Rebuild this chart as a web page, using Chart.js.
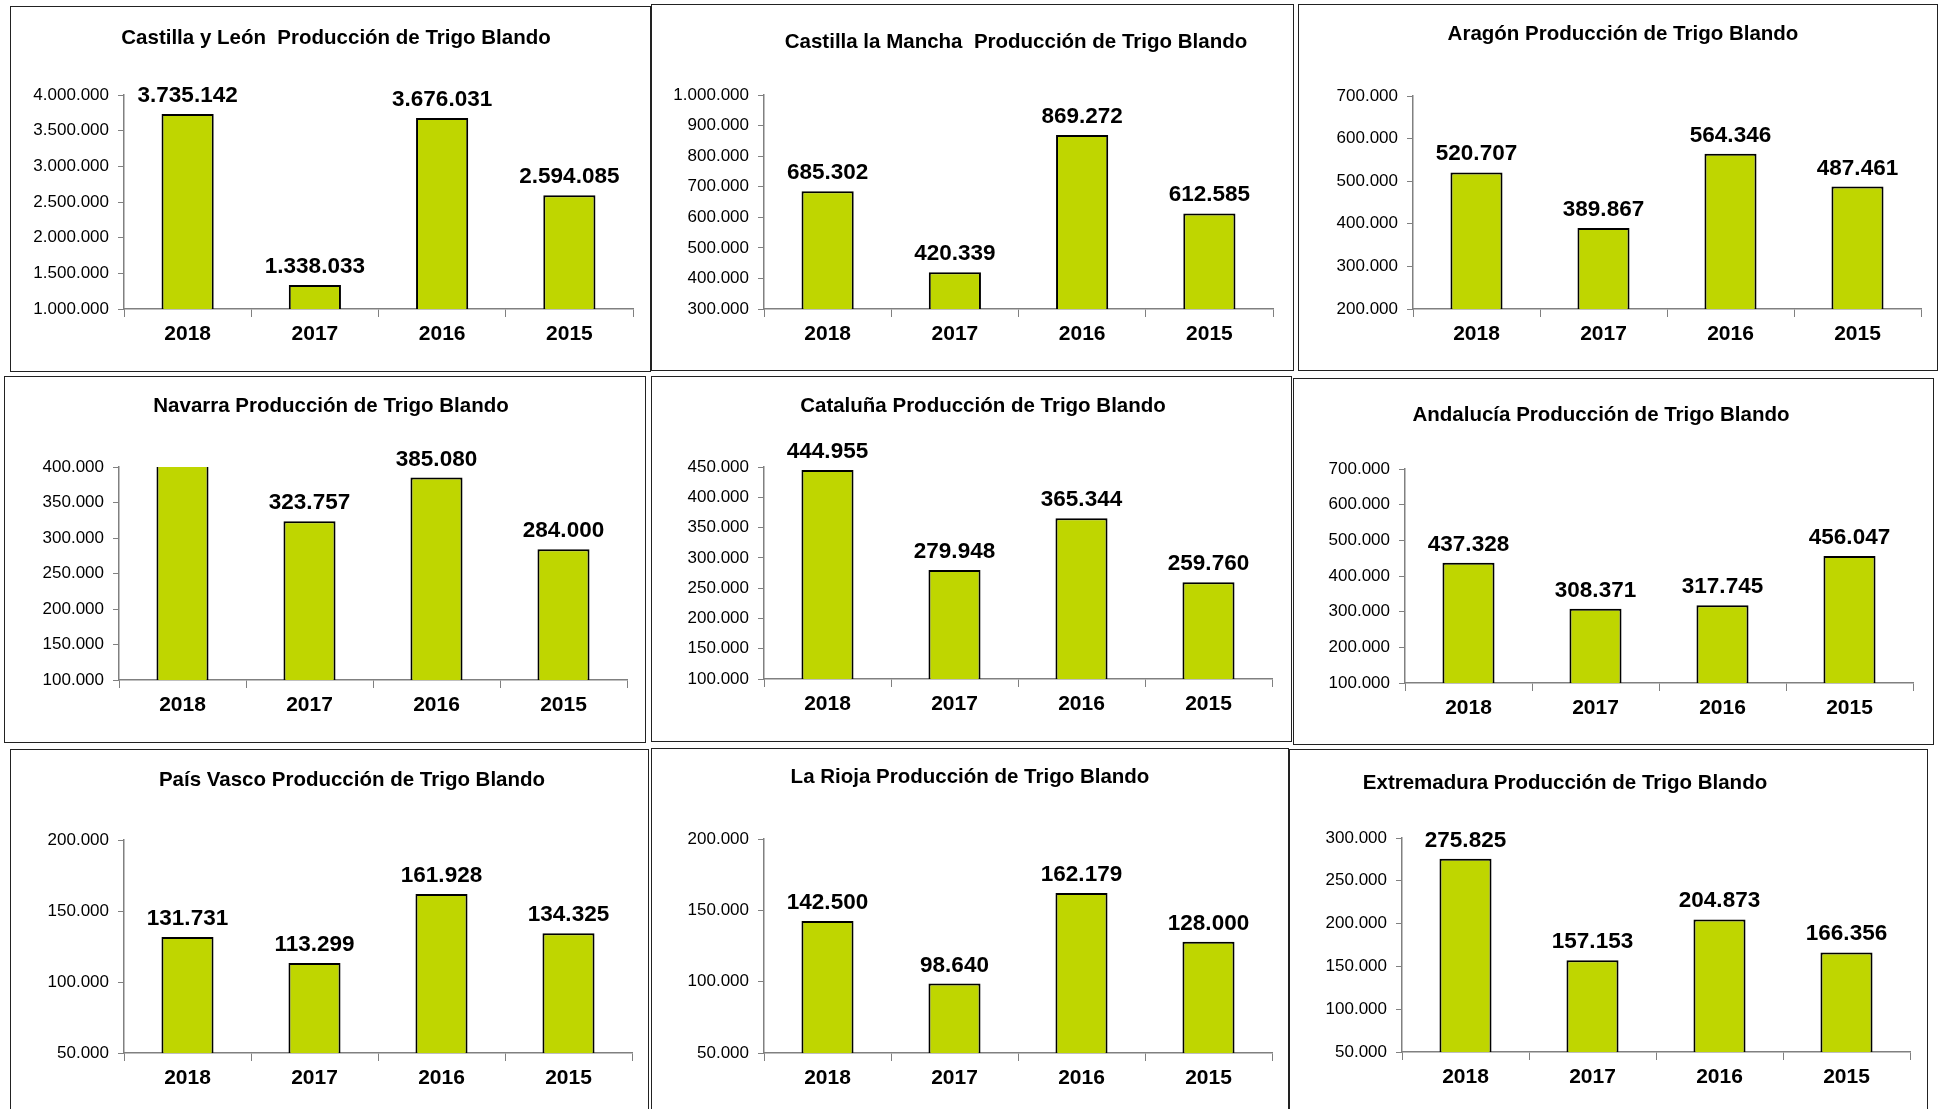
<!DOCTYPE html>
<html lang="es">
<head>
<meta charset="utf-8">
<title>Producción de Trigo Blando</title>
<script src="https://cdn.jsdelivr.net/npm/chart.js@4.4.1/dist/chart.umd.min.js"></script>
<style>
  html, body { margin: 0; padding: 0; background: #fff; }
  body {
    width: 1938px; height: 1109px; position: relative; overflow: hidden;
    font-family: "Liberation Sans", Arial, sans-serif;
  }
  .box { position: absolute; border: 1px solid #222; box-sizing: border-box; background: #fff; }
  .box canvas { position: absolute; left: 0; top: 0; }
  .title {
    position: absolute; font-weight: bold; font-size: 20.5px; color: #000;
    white-space: pre; transform: translate(-50%, -50%);
  }
</style>
</head>
<body>
<script>
// data
const years = ["2018", "2017", "2016", "2015"];

const titles = [
  "Castilla y León  Producción de Trigo Blando",
  "Castilla la Mancha  Producción de Trigo Blando",
  "Aragón Producción de Trigo Blando",
  "Navarra Producción de Trigo Blando",
  "Cataluña Producción de Trigo Blando",
  "Andalucía Producción de Trigo Blando",
  "País Vasco Producción de Trigo Blando",
  "La Rioja Producción de Trigo Blando",
  "Extremadura Producción de Trigo Blando",
];

const castillaLeon = [3735142, 1338033, 3676031, 2594085];
const castillaMancha = [685302, 420339, 869272, 612585];
const aragon = [520707, 389867, 564346, 487461];
const navarra = [420000, 323757, 385080, 284000]; // 2018 sale fuera de escala
const cataluna = [444955, 279948, 365344, 259760];
const andalucia = [437328, 308371, 317745, 456047];
const paisVasco = [131731, 113299, 161928, 134325];
const laRioja = [142500, 98640, 162179, 128000];
const extremadura = [275825, 157153, 204873, 166356];

const series = [castillaLeon, castillaMancha, aragon, navarra, cataluna,
  andalucia, paisVasco, laRioja, extremadura];

// y axis ranges: min, max, step
const yMin = [1000000, 300000, 200000, 100000, 100000, 100000, 50000, 50000, 50000];
const yMax = [4000000, 1000000, 700000, 400000, 450000, 700000, 200000, 200000, 300000];
const yStep = [500000, 100000, 100000, 50000, 50000, 100000, 50000, 50000, 50000];

// layout (page px): box x0,y0,x1,y1 / axis left,right,top,bottom / title x,y
const layout = [
  { box: [10, 6, 651, 372], axis: [124, 633, 95, 309], title: [336, 37] },
  { box: [651, 4, 1294, 371], axis: [764, 1273, 95, 309], title: [1016, 41] },
  { box: [1298, 4, 1938, 371], axis: [1413, 1921, 96, 309], title: [1623, 33] },
  { box: [4, 376, 646, 743], axis: [119, 627, 467, 680], title: [331, 405] },
  { box: [651, 376, 1292, 742], axis: [764, 1272, 467, 679], title: [983, 405] },
  { box: [1293, 378, 1934, 745], axis: [1405, 1913, 469, 683], title: [1601, 414] },
  { box: [10, 749, 649, 1115], axis: [124, 632, 840, 1053], title: [352, 779] },
  { box: [651, 748, 1289, 1115], axis: [764, 1272, 839, 1053], title: [970, 776] },
  { box: [1289, 749, 1928, 1115], axis: [1402, 1910, 838, 1052], title: [1565, 782] },
];

const fmt = (n) => String(Math.round(n)).replace(/\B(?=(\d{3})+(?!\d))/g, ".");

const FONT = "'Liberation Sans', Arial, sans-serif";
const AXIS = "#808080";

// etiquetas de valor encima de cada barra
const valueLabels = {
  id: "valueLabels",
  afterDatasetsDraw(chart) {
    const ctx = chart.ctx;
    const meta = chart.getDatasetMeta(0);
    const yScale = chart.scales.y;
    ctx.save();
    ctx.font = "bold 22.5px " + FONT;
    ctx.fillStyle = "#000";
    ctx.textAlign = "center";
    ctx.textBaseline = "alphabetic";
    meta.data.forEach((bar, i) => {
      const v = chart.data.datasets[0].data[i];
      if (v > yScale.max) return;
      ctx.fillText(fmt(v), bar.x, bar.y - 12);
    });
    ctx.restore();
  },
};

series.forEach((values, k) => {
  const L = layout[k];
  const [x0, y0, x1, y1] = L.box;
  const [ax, ar, at, ab] = L.axis;
  const w = x1 - x0 - 2;
  const h = y1 - y0 - 2;

  const box = document.createElement("div");
  box.className = "box";
  box.style.left = x0 + "px";
  box.style.top = y0 + "px";
  box.style.width = (x1 - x0) + "px";
  box.style.height = (y1 - y0) + "px";

  const canvas = document.createElement("canvas");
  canvas.width = w;
  canvas.height = h;
  canvas.style.width = w + "px";
  canvas.style.height = h + "px";
  box.appendChild(canvas);

  const title = document.createElement("div");
  title.className = "title";
  title.textContent = titles[k];
  title.style.left = (L.title[0] - x0 - 1) + "px";
  title.style.top = (L.title[1] - y0 - 1) + "px";
  box.appendChild(title);

  document.body.appendChild(box);

  new Chart(canvas, {
    type: "bar",
    data: {
      labels: years,
      datasets: [
        {
          data: values,
          backgroundColor: "#bfd600",
          borderColor: "#000",
          borderWidth: 2,
          barPercentage: 0.41,
          categoryPercentage: 1,
        },
      ],
    },
    options: {
      responsive: false,
      animation: false,
      events: [],
      layout: {
        padding: { left: 0, top: at - y0 - 1, right: x1 - 1 - ar, bottom: 0 },
      },
      plugins: {
        legend: { display: false },
        title: { display: false },
        tooltip: { enabled: false },
      },
      scales: {
        x: {
          border: { display: true, color: AXIS, width: 1.5 },
          grid: { offset: true, drawOnChartArea: false, color: AXIS, tickLength: 8 },
          ticks: { color: "#000", padding: 5, font: { family: FONT, size: 21, weight: "bold" } },
          afterFit: (s) => { s.height = y1 - 1 - ab; },
        },
        y: {
          min: yMin[k],
          max: yMax[k],
          border: { display: true, color: AXIS, width: 1.5 },
          grid: { drawOnChartArea: false, color: AXIS, tickLength: 6 },
          ticks: {
            stepSize: yStep[k],
            color: "#000",
            padding: 9,
            font: { family: FONT, size: 17 },
            callback: (v) => fmt(v),
          },
          afterFit: (s) => { s.width = ax - x0 - 1; },
        },
      },
    },
    plugins: [valueLabels],
  });
});
</script>
</body>
</html>
